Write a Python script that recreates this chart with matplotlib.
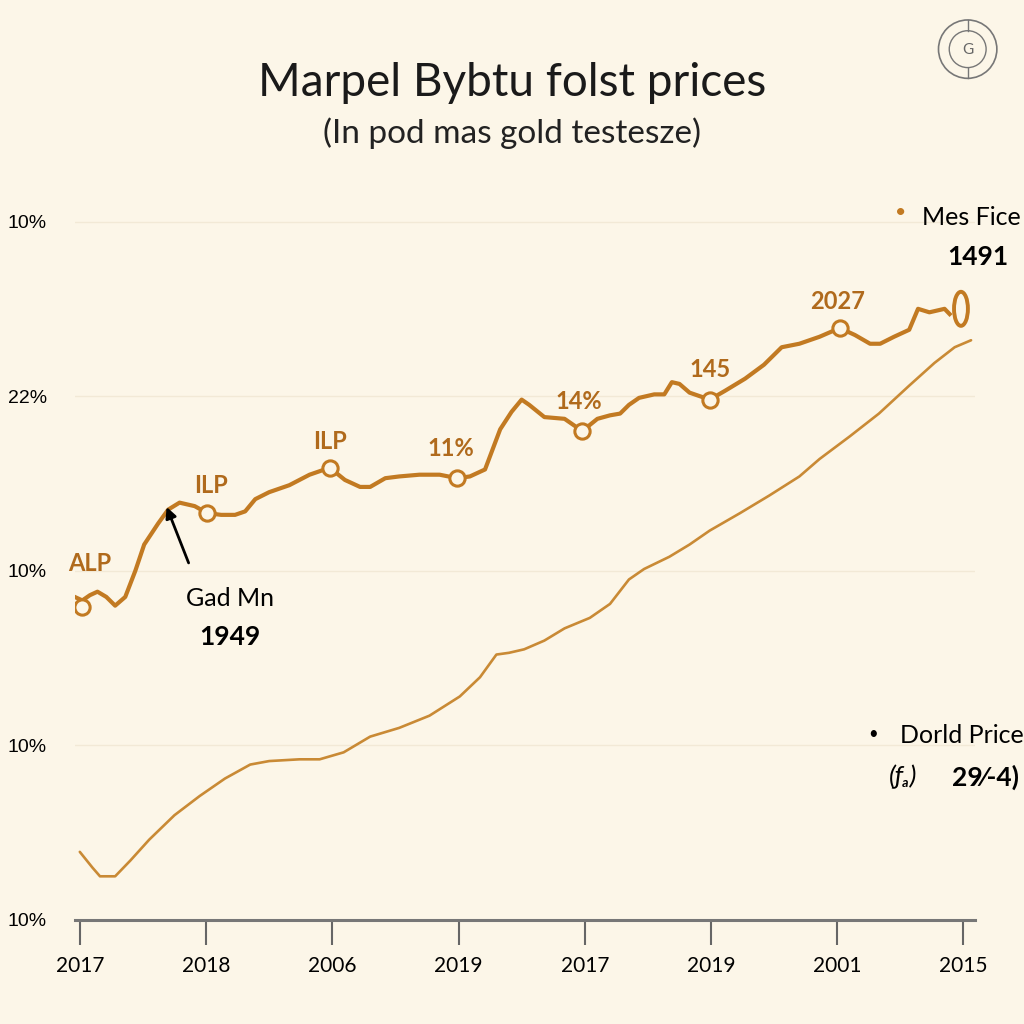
import numpy as np
import matplotlib.pyplot as plt
from matplotlib.patches import Ellipse, Circle

# x positions are in "tick slots" (0..7), y values in grid steps (0..4)
tick_labels = ['2017', '2018', '2006', '2019', '2017', '2019', '2001', '2015']
ytick_labels = ['10%', '10%', '10%', '22%', '10%']

upper_x = [-0.04, 0.02, 0.08, 0.14, 0.21, 0.28, 0.36, 0.44, 0.51, 0.62, 0.70,
           0.79, 0.91, 1.01, 1.12, 1.23, 1.31, 1.39, 1.50, 1.66, 1.82, 1.98,
           2.10, 2.22, 2.30, 2.42, 2.53, 2.69, 2.85, 2.99, 3.09, 3.21, 3.33,
           3.42, 3.50, 3.56, 3.68, 3.84, 3.98, 4.10, 4.20, 4.28, 4.35, 4.43,
           4.55, 4.63, 4.69, 4.75, 4.83, 4.91, 4.99, 5.11, 5.27, 5.42, 5.56,
           5.70, 5.86, 6.02, 6.14, 6.26, 6.34, 6.45, 6.57, 6.64, 6.73, 6.85,
           6.89]
upper_y = [1.85, 1.83, 1.86, 1.88, 1.85, 1.80, 1.85, 2.00, 2.15, 2.27, 2.35,
           2.39, 2.37, 2.33, 2.32, 2.32, 2.34, 2.41, 2.45, 2.49, 2.55, 2.59,
           2.52, 2.48, 2.48, 2.53, 2.54, 2.55, 2.55, 2.53, 2.54, 2.58, 2.81,
           2.91, 2.98, 2.95, 2.88, 2.87, 2.80, 2.87, 2.89, 2.90, 2.95, 2.99,
           3.01, 3.01, 3.08, 3.07, 3.02, 3.00, 2.98, 3.03, 3.10, 3.18, 3.28,
           3.30, 3.34, 3.39, 3.35, 3.30, 3.30, 3.34, 3.38, 3.50, 3.48, 3.50,
           3.47]
# open circle markers on the upper line
marker_x = [0.02, 1.01, 1.98, 2.99, 3.98, 4.99, 6.02]
marker_y = [1.79, 2.33, 2.59, 2.53, 2.80, 2.98, 3.39]
marker_labels = ['ALP', 'ILP', 'ILP', '11%', '14%', '145', '2027']
end_x, end_y = 6.98, 3.50

lower_x = [0.00, 0.10, 0.16, 0.28, 0.40, 0.55, 0.75, 0.95, 1.15, 1.35, 1.50,
           1.74, 1.90, 2.09, 2.30, 2.53, 2.77, 3.01, 3.17, 3.30, 3.40, 3.52,
           3.68, 3.84, 4.04, 4.20, 4.35, 4.47, 4.67, 4.83, 4.99, 5.23, 5.46,
           5.70, 5.86, 6.10, 6.33, 6.57, 6.77, 6.93, 7.06]
lower_y = [0.39, 0.30, 0.25, 0.25, 0.34, 0.46, 0.60, 0.71, 0.81, 0.89, 0.91,
           0.92, 0.92, 0.96, 1.05, 1.10, 1.17, 1.28, 1.39, 1.52, 1.53, 1.55,
           1.60, 1.67, 1.73, 1.81, 1.95, 2.01, 2.08, 2.15, 2.23, 2.33, 2.43,
           2.54, 2.64, 2.77, 2.90, 3.06, 3.19, 3.28, 3.32]

bg = '#fcf6e8'
c_up = '#c27a22'
c_low = '#c98a35'
c_lab = '#b06a1c'

plt.rcParams['font.family'] = ['Lato', 'DejaVu Sans']

fig = plt.figure(figsize=(10.24, 10.24), dpi=100, facecolor=bg)
ax = fig.add_axes([0.073, 0.1016, 0.879, 0.723], facecolor=bg)

ax.plot(lower_x, lower_y, color=c_low, lw=1.9, solid_capstyle='round', zorder=2)
ax.plot(upper_x, upper_y, color=c_up, lw=3, solid_joinstyle='round', zorder=3)
ax.plot(marker_x, marker_y, 'o', ms=11, mfc=bg, mec=c_up, mew=2.2, zorder=4)
ax.add_patch(Ellipse((end_x, end_y), 0.11, 0.195, facecolor=bg,
                     edgecolor=c_up, lw=2.8, zorder=4))

offsets = [(0.06, 0.25), (0.03, 0.16), (0.0, 0.15), (-0.05, 0.17),
           (-0.03, 0.17), (0.0, 0.17), (-0.02, 0.15)]
for x, y, t, (dx, dy) in zip(marker_x, marker_y, marker_labels, offsets):
    ax.text(x + dx, y + dy, t, ha='center', va='center', fontsize=17,
            fontweight='bold', color=c_lab, zorder=5)

ax.annotate('', xy=(0.68, 2.38), xytext=(0.87, 2.03),
            arrowprops=dict(arrowstyle='-|>', color='black', lw=2,
                            mutation_scale=16), zorder=6)
ax.text(1.19, 1.84, 'Gad Mn', ha='center', va='center', fontsize=18)
ax.text(1.19, 1.62, '1949', ha='center', va='center', fontsize=19,
        fontweight='bold')

ax.set_xlim(-0.04, 7.09)
ax.set_ylim(0, 4.24)
ax.set_xticks(range(len(tick_labels)))
ax.set_xticklabels(tick_labels, fontsize=15)
ax.set_yticks(range(len(ytick_labels)))
ax.set_yticklabels(ytick_labels, fontsize=14,
                   family=['Liberation Sans', 'DejaVu Sans'])
ax.tick_params(axis='x', length=18, width=1.5, color='#666666', pad=8)
ax.tick_params(axis='y', length=0, pad=20)
for s in ['top', 'right', 'left']:
    ax.spines[s].set_visible(False)
ax.spines['bottom'].set_color('#777777')
ax.spines['bottom'].set_linewidth(2.2)
ax.grid(axis='y', color='#f2e9d6', lw=1)
ax.set_axisbelow(True)

fig.text(0.5, 0.919, 'Marpel Bybtu folst prices', ha='center', va='center',
         fontsize=33, color='#1a1a1a')
fig.text(0.5, 0.870, '(In pod mas gold testesze)', ha='center', va='center',
         fontsize=24, color='#222222')

# legend-like labels on the right
fig.text(0.880, 0.792, '\u2022', ha='center', va='center', fontsize=14,
         color=c_up)
fig.text(0.997, 0.788, 'Mes Fice', ha='right', va='center', fontsize=18)
fig.text(0.955, 0.749, '1491', ha='center', va='center', fontsize=19,
         fontweight='bold')
fig.text(0.853, 0.283, '\u2022', ha='center', va='center', fontsize=12)
fig.text(1.0, 0.282, 'Dorld Price', ha='right', va='center', fontsize=18)
fig.text(0.868, 0.241, '(\u0192\u2090)', ha='left', va='center', fontsize=19,
         style='italic')
fig.text(0.995, 0.241, '29\u2044-4)', ha='right', va='center', fontsize=19,
         fontweight='bold')

# small round logo, top right
lax = fig.add_axes([0.915, 0.922, 0.06, 0.06])
lax.set_xlim(-1, 1)
lax.set_ylim(-1, 1)
lax.axis('off')
lax.add_patch(Circle((0, 0), 0.95, fill=False, ec='#777777', lw=1.2))
lax.add_patch(Circle((0, 0), 0.6, fill=False, ec='#777777', lw=1.0))
lax.plot([0, 0], [0.6, 0.95], color='#777777', lw=1)
lax.plot([0, 0], [-0.6, -0.95], color='#777777', lw=1)
lax.text(0, -0.02, 'G', ha='center', va='center', fontsize=11, color='#666666')

fig.savefig('out.png', dpi=100, facecolor=bg)
